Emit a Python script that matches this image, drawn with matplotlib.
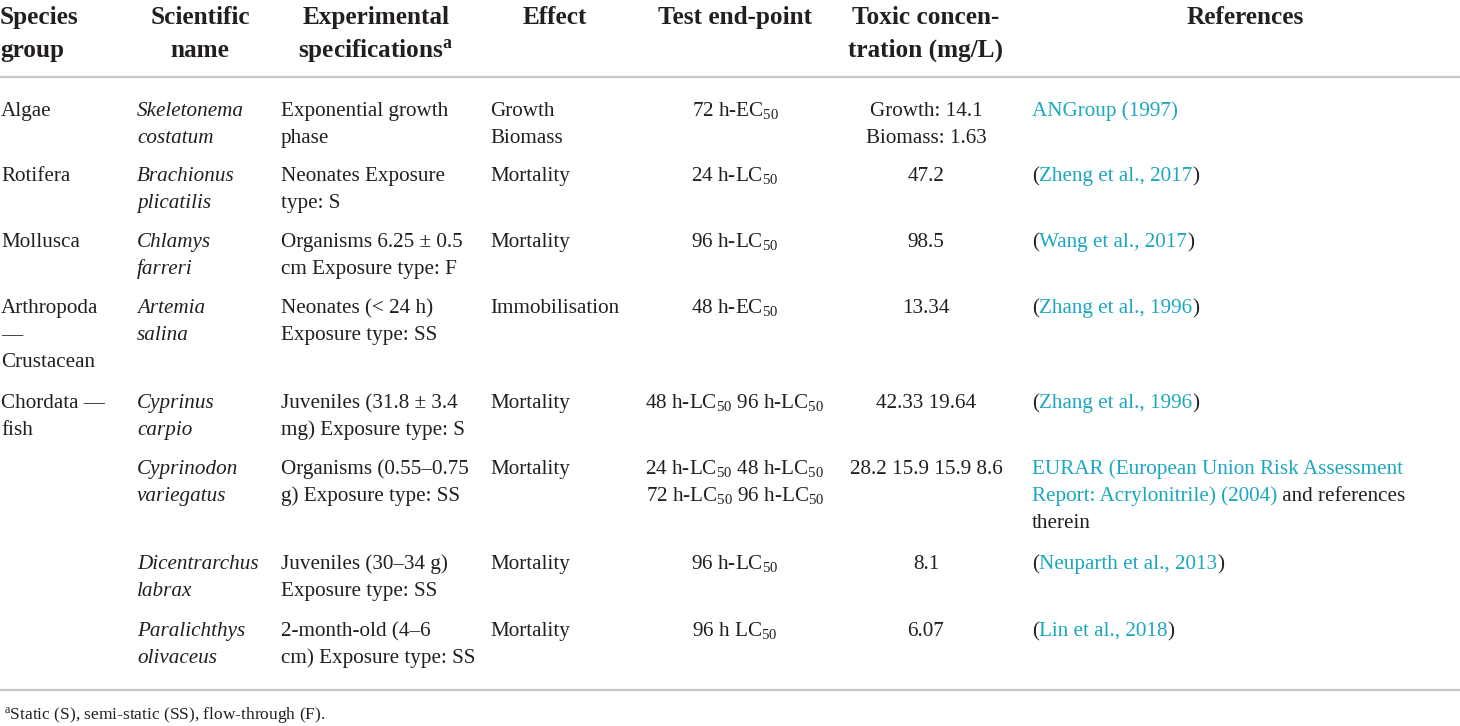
import matplotlib
matplotlib.use("Agg")
import matplotlib.pyplot as plt

plt.rcParams['font.family'] = ['Liberation Serif', 'DejaVu Serif']
plt.rcParams['mathtext.fontset'] = 'custom'
plt.rcParams['mathtext.rm'] = 'Liberation Serif'
plt.rcParams['mathtext.it'] = 'Liberation Serif:italic'
plt.rcParams['mathtext.bf'] = 'Liberation Serif:bold'

# ---------------- data ----------------
headers = ["Species\ngroup", "Scientific\nname", "Experimental\nspecifications$^{\\mathbf{a}}$",
           "Effect", "Test end-point", "Toxic concen-\ntration (mg/L)", "References"]
species_group = ["Algae", "Rotifera", "Mollusca", "Arthropoda\n—\nCrustacean",
                 "Chordata —\nfish", "", "", ""]
scientific_name = ["Skeletonema\ncostatum", "Brachionus\nplicatilis", "Chlamys\nfarreri",
                   "Artemia\nsalina", "Cyprinus\ncarpio", "Cyprinodon\nvariegatus",
                   "Dicentrarchus\nlabrax", "Paralichthys\nolivaceus"]
specifications = ["Exponential growth\nphase", "Neonates Exposure\ntype: S",
                  "Organisms 6.25 ± 0.5\ncm Exposure type: F",
                  "Neonates (< 24 h)\nExposure type: SS",
                  "Juveniles (31.8 ± 3.4\nmg) Exposure type: S",
                  "Organisms (0.55–0.75\ng) Exposure type: SS",
                  "Juveniles (30–34 g)\nExposure type: SS",
                  "2-month-old (4–6\ncm) Exposure type: SS"]
effects = ["Growth\nBiomass", "Mortality", "Mortality", "Immobilisation",
           "Mortality", "Mortality", "Mortality", "Mortality"]
end_points = ["72 h-EC$_{50}$", "24 h-LC$_{50}$", "96 h-LC$_{50}$", "48 h-EC$_{50}$",
              "48 h-LC$_{50}$ 96 h-LC$_{50}$",
              "24 h-LC$_{50}$ 48 h-LC$_{50}$\n72 h-LC$_{50}$ 96 h-LC$_{50}$",
              "96 h-LC$_{50}$", "96 h LC$_{50}$"]
toxic_conc = ["Growth: 14.1\nBiomass: 1.63", "47.2", "98.5", "13.34", "42.33 19.64",
              "28.2 15.9 15.9 8.6", "8.1", "6.07"]
# references: list of lines, each line a list of (text, is_link)
references = [
    [[("ANGroup (1997)", True)]],
    [[("(", False), ("Zheng et al., 2017", True), (")", False)]],
    [[("(", False), ("Wang et al., 2017", True), (")", False)]],
    [[("(", False), ("Zhang et al., 1996", True), (")", False)]],
    [[("(", False), ("Zhang et al., 1996", True), (")", False)]],
    [[("EURAR (European Union Risk Assessment", True)],
     [("Report: Acrylonitrile) (2004)", True), (" and references", False)],
     [("therein", False)]],
    [[("(", False), ("Neuparth et al., 2013", True), (")", False)]],
    [[("(", False), ("Lin et al., 2018", True), (")", False)]],
]
footnote = "$^{\\mathrm{a}}$Static (S), semi-static (SS), flow-through (F)."

# ---------------- layout ----------------
W, H = 1460, 726
TXT = '#231f20'
LINK = '#1aa7bf'
RULE = '#c8c8c8'
BODY_FS = 15.2
HEAD_FS = 18.2
LINE = 27
row_base = [116, 181, 247, 313, 408, 474, 569, 636]
head_base = [24, 57]

fig = plt.figure(figsize=(W / 100, H / 100), dpi=100)
ax = fig.add_axes([0, 0, 1, 1])
ax.set_xlim(0, W)
ax.set_ylim(H, 0)
ax.axis('off')

# headers
head_x = [0, 200, 376, 555, 735, 926, 1245]
head_ha = ['left', 'center', 'center', 'center', 'center', 'center', 'center']
for h, x, ha in zip(headers, head_x, head_ha):
    for i, ln in enumerate(h.split("\n")):
        ax.text(x, head_base[i], ln, ha=ha, va='baseline', fontsize=HEAD_FS,
                fontweight='bold', color=TXT)

# rules
ax.plot([0, W], [77, 77], color=RULE, lw=1.6, solid_capstyle='butt')
ax.plot([0, W], [690, 690], color=RULE, lw=1.6, solid_capstyle='butt')

def cell(x, yb, s, ha='left', style='normal'):
    for i, ln in enumerate(s.split("\n")):
        if ln:
            ax.text(x, yb + i * LINE, ln, ha=ha, va='baseline', fontsize=BODY_FS,
                    color=TXT, fontstyle=style)

for r, yb in enumerate(row_base):
    cell(1, yb, species_group[r])
    cell(137, yb, scientific_name[r], style='italic')
    cell(281, yb, specifications[r])
    cell(490, yb, effects[r])
    cell(735, yb, end_points[r], ha='center')
    cell(926, yb, toxic_conc[r], ha='center')
    for i, segs in enumerate(references[r]):
        prev = None
        for txt, link in segs:
            col = LINK if link else TXT
            if prev is None:
                prev = ax.text(1032, yb + i * LINE, txt, ha='left', va='baseline',
                               fontsize=BODY_FS, color=col)
            else:
                prev = ax.annotate(txt, xy=(1, 0), xycoords=prev, ha='left',
                                   va='bottom', fontsize=BODY_FS, color=col)

ax.text(4, 719, footnote, ha='left', va='baseline', fontsize=12.5, color=TXT)

fig.savefig("out.png", dpi=100)
